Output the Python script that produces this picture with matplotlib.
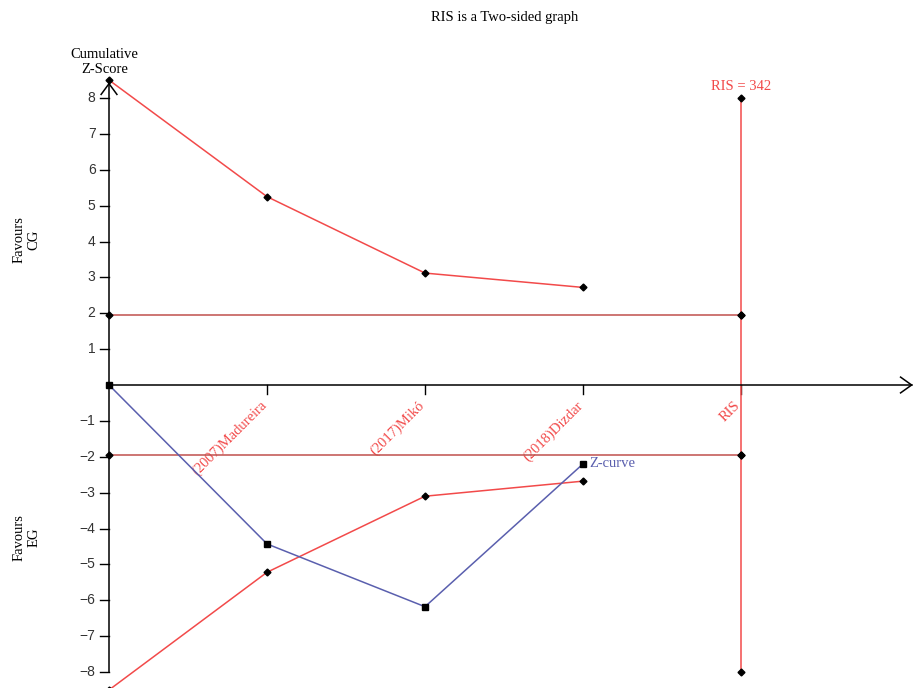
import matplotlib.pyplot as plt

# studies along the x axis (cumulative order), last slot is the RIS line
labels = ["(2007)Madureira", "(2017)Mikó", "(2018)Dizdar", "RIS"]
upper_bound = [8.5, 5.25, 3.12, 2.72]
lower_bound = [-8.5, -5.22, -3.1, -2.68]
zcurve = [0.0, -4.43, -6.18, -2.2]
conv_z = 1.96
ris_z = 8
ris_value = 342

RED = "#f24a4a"
DARKRED = "#c0504d"
BLUE = "#5a5fae"
SERIF = ["Liberation Serif", "DejaVu Serif"]


def run():
    fig = plt.figure(figsize=(9.14, 6.88), dpi=100)
    ax = fig.add_axes([0, 0, 1, 1])
    ax.set_xlim(-0.690, 5.095)
    ax.set_ylim(-8.446, 10.732)
    ax.axis("off")

    xs = list(range(len(upper_bound)))
    ris_x = len(labels)

    # axes drawn by hand, arrows at the ends
    ax.plot([0, 0], [-8, 8.5], color="black", lw=1.1, zorder=3)
    ax.plot([0, 5.08], [0, 0], color="black", lw=1.1, zorder=3)
    ax.plot([-0.05, 0, 0.05], [8.1, 8.4, 8.1], color="black", lw=1.1, zorder=3)
    ax.plot([5.01, 5.08, 5.01], [0.22, 0, -0.22], color="black", lw=1.1, zorder=3)

    for v in range(1, 9):
        for s in (1, -1):
            ax.plot([-0.055, 0], [s * v, s * v], color="black", lw=1.0)
            lab = str(v) if s > 0 else "\u2212" + str(v)
            ax.text(-0.085, s * v, lab, ha="right", va="center", fontsize=10,
                    color="#333333", family=["Liberation Sans", "DejaVu Sans"])

    for i, lab in enumerate(labels):
        x = i + 1
        ax.plot([x, x], [0, -0.25], color="black", lw=1.0)
        ax.text(x - 0.045, -0.38, lab, rotation=45, rotation_mode="anchor",
                ha="right", va="top", color=RED, fontsize=10.5, family=SERIF)

    # conventional boundaries
    for s in (1, -1):
        ax.plot([0, ris_x], [s * conv_z, s * conv_z], color=DARKRED, lw=1.1,
                marker="D", ms=3.5, mfc="black", mec="black", zorder=4)

    # RIS vertical line
    ax.plot([ris_x, ris_x], [-ris_z, ris_z], color=RED, lw=1.1, zorder=2)
    ax.plot([ris_x] * 4, [ris_z, conv_z, -conv_z, -ris_z], ls="none",
            marker="D", ms=3.5, color="black", zorder=5)
    ax.text(ris_x, ris_z + 0.15, f"RIS = {ris_value}", color=RED, ha="center",
            va="bottom", fontsize=10.5, family=SERIF)

    # monitoring boundaries
    ax.plot(xs, upper_bound, color=RED, lw=1.1, marker="D", ms=3.5,
            mfc="black", mec="black", zorder=4)
    ax.plot(xs, lower_bound, color=RED, lw=1.1, marker="D", ms=3.5,
            mfc="black", mec="black", zorder=4)

    # Z-curve
    ax.plot(xs, zcurve, color=BLUE, lw=1.1, marker="s", ms=4.5,
            mfc="black", mec="black", zorder=6)
    ax.text(xs[-1] + 0.04, zcurve[-1], "Z-curve", color=BLUE, ha="left",
            va="center", fontsize=10.5, family=SERIF)

    ax.text(-0.03, 8.62, "Cumulative\nZ-Score", ha="center", va="bottom",
            fontsize=10.5, family=SERIF, linespacing=1.2)
    ax.text(-0.52, 4.05, "Favours\nCG", ha="center", va="center", rotation=90,
            fontsize=10.5, family=SERIF, linespacing=1.2)
    ax.text(-0.52, -4.25, "Favours\nEG", ha="center", va="center", rotation=90,
            fontsize=10.5, family=SERIF, linespacing=1.2)

    fig.text(0.552, 0.974, "RIS is a Two-sided graph", ha="center", va="center",
             fontsize=10.5, family=SERIF)

    fig.savefig("out.png", facecolor="white")
    plt.close(fig)


if __name__ == "__main__":
    run()
